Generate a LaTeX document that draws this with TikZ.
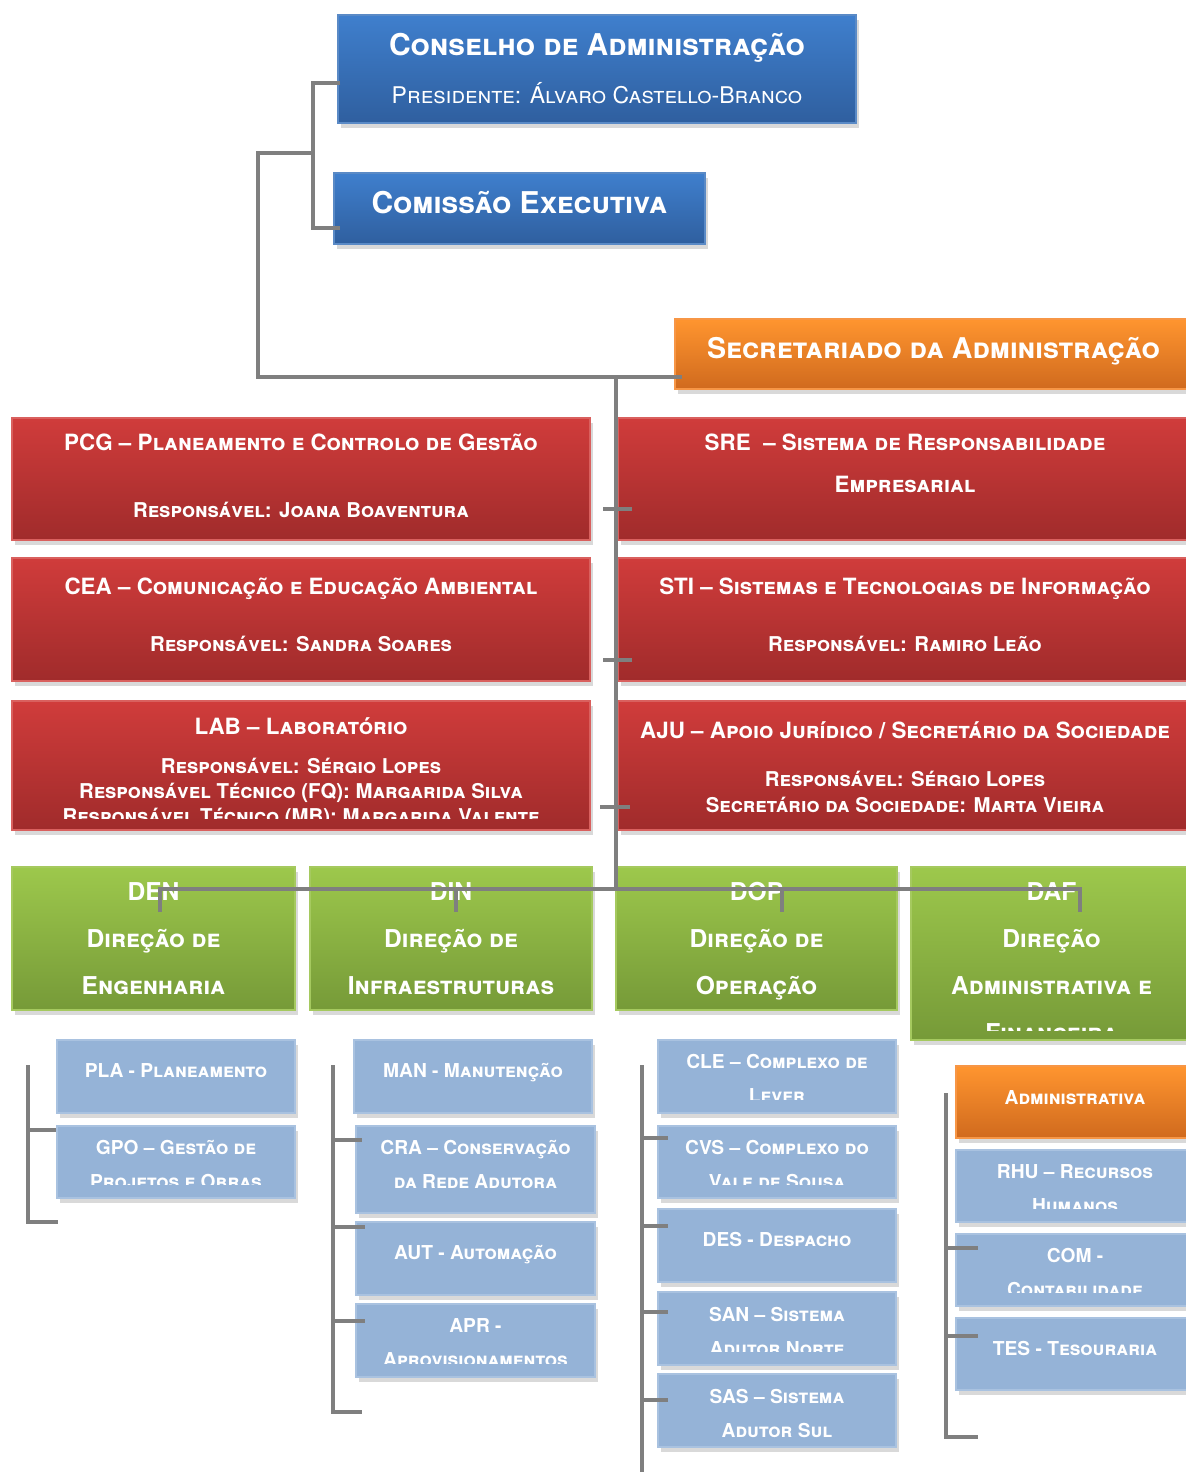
\documentclass[tikz,border=0pt]{standalone}
\usepackage{fontspec}
\setmainfont{TeX Gyre Heros}
\usetikzlibrary{shadows}

\definecolor{bluetop}{HTML}{3F7FCD}
\definecolor{bluebot}{HTML}{2F5F9F}
\definecolor{blueline}{HTML}{5A8AC6}
\definecolor{orgtop}{HTML}{FF952F}
\definecolor{orgbot}{HTML}{D06A1E}
\definecolor{orgline}{HTML}{F79646}
\definecolor{redtop}{HTML}{D03C3B}
\definecolor{redbot}{HTML}{A02B2B}
\definecolor{redline}{HTML}{D9605E}
\definecolor{grntop}{HTML}{9DC84C}
\definecolor{grnbot}{HTML}{769A38}
\definecolor{grnline}{HTML}{A5C95F}
\definecolor{unitfill}{HTML}{95B3D7}
\definecolor{unitline}{HTML}{A9C2E0}
\definecolor{linkgray}{HTML}{7F7F7F}

\tikzset{
  orgbox/.style={draw, line width=0.6pt, inner sep=0pt,
    drop shadow={shadow xshift=1.5pt, shadow yshift=-2.5pt, opacity=0.3}},
  bluebox/.style={orgbox, draw=blueline, top color=bluetop, bottom color=bluebot},
  orangebox/.style={orgbox, draw=orgline, top color=orgtop, bottom color=orgbot},
  redbox/.style={orgbox, draw=redline, top color=redtop, bottom color=redbot},
  greenbox/.style={orgbox, draw=grnline, top color=grntop, bottom color=grnbot},
  unitbox/.style={orgbox, draw=unitline, fill=unitfill},
  link/.style={draw=linkgray, line width=2pt},
  wtxt/.style={text=white, anchor=base, inner sep=0pt},
  bigtxt/.style={wtxt, yshift=-5.4pt, font=\fontsize{15}{18}\selectfont\bfseries\scshape},
  prestxt/.style={wtxt, yshift=-4.1pt, font=\fontsize{11.5}{14}\selectfont\scshape},
  redtitle/.style={wtxt, yshift=-4pt, font=\fontsize{11.2}{21}\selectfont\bfseries\scshape},
  redsub/.style={wtxt, yshift=-3.7pt, font=\fontsize{10.2}{12.5}\selectfont\bfseries\scshape},
  grntxt/.style={wtxt, yshift=-4.4pt, font=\fontsize{12.3}{23.5}\selectfont\bfseries\scshape},
  unittxt/.style={wtxt, yshift=-3.45pt, font=\fontsize{9.6}{17}\selectfont\bfseries\scshape}
}

% box from its corners, in picture units
\newcommand{\orgnode}[6]{%
  \node[#1, minimum width={(#5-#3)*0.5pt}, minimum height={(#6-#4)*0.5pt}]
    (#2) at ({(#3+#5)/2},{(#4+#6)/2}) {};}
% text cut at the bottom of its box
\newcommand{\cliptext}[3][7pt]{%
  \begin{scope}
    \clip ([yshift=#1]#2.south west) rectangle (#2.north east);
    #3
  \end{scope}}
% lines stacked below the first baseline
\newcommand{\stack}[1]{\begin{tabular}[t]{@{}c@{}}#1\end{tabular}}

\begin{document}
\begin{tikzpicture}[x=0.5pt, y=-0.5pt]
  \useasboundingbox (0,0) rectangle (1185,1472);

  % administration
  \orgnode{bluebox}{ca}{338}{15}{856}{123}
  \node[bigtxt] (ca-t) at (ca |- 0,45) {Conselho de Administração};
  \node[prestxt] (ca-p) at (ca |- 0,95) {Presidente: Álvaro Castello-Branco};
  \orgnode{bluebox}{ce}{334}{173}{705}{244}
  \node[bigtxt] (ce-t) at (ce |- 0,203) {Comissão Executiva};
  \orgnode{orangebox}{sa}{675}{319}{1192}{389}
  \node[bigtxt, yshift=0.3pt, font=\fontsize{14.3}{18}\selectfont\bfseries\scshape] (sa-t) at (sa |- 0,348)
    {Secretariado da Administração};

  % staff units
  \orgnode{redbox}{pcg}{12}{418}{590}{540}
  \node[redtitle] (pcg-t) at (pcg |- 0,442) {PCG – Planeamento e Controlo de Gestão};
  \node[redsub] (pcg-r) at (pcg |- 0,510) {Responsável: Joana Boaventura};
  \orgnode{redbox}{sre}{618}{418}{1192}{540}
  \node[redtitle] (sre-t) at (sre |- 0,442)
    {\stack{SRE \ – Sistema de Responsabilidade\\Empresarial}};
  \orgnode{redbox}{cea}{12}{558}{590}{681}
  \node[redtitle] (cea-t) at (cea |- 0,586) {CEA – Comunicação e Educação Ambiental};
  \node[redsub] (cea-r) at (cea |- 0,644) {Responsável: Sandra Soares};
  \orgnode{redbox}{sti}{618}{558}{1192}{681}
  \node[redtitle] (sti-t) at (sti |- 0,586) {STI – Sistemas e Tecnologias de Informação};
  \node[redsub] (sti-r) at (sti |- 0,644) {Responsável: Ramiro Leão};
  \orgnode{redbox}{lab}{12}{701}{590}{830}
  \node[redtitle] (lab-t) at (lab |- 0,726) {LAB – Laboratório};
  \cliptext[6pt]{lab}{\node[redsub] (lab-r) at (lab |- 0,766)
    {\stack{Responsável: Sérgio Lopes\\Responsável Técnico (FQ): Margarida Silva\\Responsável Técnico (MB): Margarida Valente}};}
  \orgnode{redbox}{aju}{618}{701}{1192}{830}
  \node[redtitle] (aju-t) at (aju |- 0,730) {AJU – Apoio Jurídico / Secretário da Sociedade};
  \node[redsub, font=\fontsize{10.2}{13}\selectfont\bfseries\scshape] (aju-r) at (aju |- 0,779)
    {\stack{Responsável: Sérgio Lopes\\Secretário da Sociedade: Marta Vieira}};

  % directorates
  \orgnode{greenbox}{den}{12}{867}{295}{1010}
  \node[grntxt] (den-t) at (den |- 0,892) {\stack{DEN\\Direção de\\Engenharia}};
  \orgnode{greenbox}{din}{310}{867}{592}{1010}
  \node[grntxt] (din-t) at (din |- 0,892) {\stack{DIN\\Direção de\\Infraestruturas}};
  \orgnode{greenbox}{dop}{616}{867}{897}{1010}
  \node[grntxt] (dop-t) at (dop |- 0,892) {\stack{DOP\\Direção de\\Operação}};
  \orgnode{greenbox}{daf}{911}{867}{1192}{1040}
  \cliptext[5pt]{daf}{\node[grntxt] (daf-t) at (daf |- 0,892) {\stack{DAF\\Direção\\Administrativa e\\Financeira}};}

  % DEN units
  \orgnode{unitbox}{pla}{57}{1040}{295}{1113}
  \node[unittxt] (pla-t) at (pla |- 0,1071) {PLA - Planeamento};
  \orgnode{unitbox}{gpo}{57}{1126}{295}{1198}
  \cliptext{gpo}{\node[unittxt] (gpo-t) at (gpo |- 0,1148) {\stack{GPO – Gestão de\\Projetos e Obras}};}

  % DIN units
  \orgnode{unitbox}{man}{354}{1040}{592}{1113}
  \node[unittxt] (man-t) at (man |- 0,1071) {MAN - Manutenção};
  \orgnode{unitbox}{cra}{356}{1126}{595}{1213}
  \node[unittxt] (cra-t) at (cra |- 0,1148) {\stack{CRA – Conservação\\da Rede Adutora}};
  \orgnode{unitbox}{aut}{356}{1222}{595}{1295}
  \node[unittxt] (aut-t) at (aut |- 0,1253) {AUT - Automação};
  \orgnode{unitbox}{apr}{356}{1304}{595}{1377}
  \cliptext{apr}{\node[unittxt] (apr-t) at (apr |- 0,1326) {\stack{APR -\\Aprovisionamentos}};}

  % DOP units
  \orgnode{unitbox}{cle}{658}{1040}{896}{1113}
  \cliptext{cle}{\node[unittxt] (cle-t) at (cle |- 0,1062) {\stack{CLE – Complexo de\\Lever}};}
  \orgnode{unitbox}{cvs}{658}{1126}{896}{1198}
  \cliptext{cvs}{\node[unittxt] (cvs-t) at (cvs |- 0,1148) {\stack{CVS – Complexo do\\Vale de Sousa}};}
  \orgnode{unitbox}{des}{658}{1209}{896}{1282}
  \node[unittxt] (des-t) at (des |- 0,1240) {DES - Despacho};
  \orgnode{unitbox}{san}{658}{1292}{896}{1365}
  \cliptext{san}{\node[unittxt] (san-t) at (san |- 0,1315) {\stack{SAN – Sistema\\Adutor Norte}};}
  \orgnode{unitbox}{sas}{658}{1374}{896}{1447}
  \node[unittxt] (sas-t) at (sas |- 0,1397) {\stack{SAS – Sistema\\Adutor Sul}};

  % DAF units
  \orgnode{orangebox}{adm}{956}{1066}{1194}{1138}
  \node[unittxt] (adm-t) at (adm |- 0,1098) {Administrativa};
  \orgnode{unitbox}{rhu}{956}{1150}{1194}{1222}
  \cliptext{rhu}{\node[unittxt] (rhu-t) at (rhu |- 0,1172) {\stack{RHU – Recursos\\Humanos}};}
  \orgnode{unitbox}{com}{956}{1234}{1194}{1306}
  \cliptext{com}{\node[unittxt] (com-t) at (com |- 0,1256) {\stack{COM -\\Contabilidade}};}
  \orgnode{unitbox}{tes}{956}{1318}{1194}{1390}
  \node[unittxt] (tes-t) at (tes |- 0,1349) {TES - Tesouraria};

  % connectors
  \draw[link] ([xshift=1.5pt]ca.west |- 0,83) -- (313,83) -- (313,228) -- ([xshift=3.5pt]ce.west |- 0,228);
  \draw[link] (313,153) -- (258,153) -- (258,377) -- ([xshift=4pt]sa.west |- 0,377);
  \draw[link] (616,377) -- (616,889);
  \draw[link] (603,509) -- (632,509);
  \draw[link] (603,660) -- (632,660);
  \draw[link] (600,807) -- (630,807);
  \draw[link] (160,912) -- (160,889) -- (1080,889) -- (1080,912);
  \draw[link] (456,889) -- (456,912);
  \draw[link] (782,889) -- (782,912);

  \draw[link] (28,1065) -- (28,1222) -- (58,1222);
  \draw[link] (28,1130) -- (gpo.west |- 0,1130);
  \draw[link] (333,1065) -- (333,1412) -- (362,1412);
  \draw[link] (333,1140) -- (362,1140);
  \draw[link] (333,1227) -- (365,1227);
  \draw[link] (333,1321) -- (365,1321);
  \draw[link] (642,1065) -- (642,1472);
  \foreach \y in {1138,1226,1312,1400}
    \draw[link] (642,\y) -- (668,\y);
  \draw[link] (946,1093) -- (946,1437) -- (978,1437);
  \draw[link] (946,1248) -- (978,1248);
  \draw[link] (946,1336) -- (978,1336);
\end{tikzpicture}
\end{document}
